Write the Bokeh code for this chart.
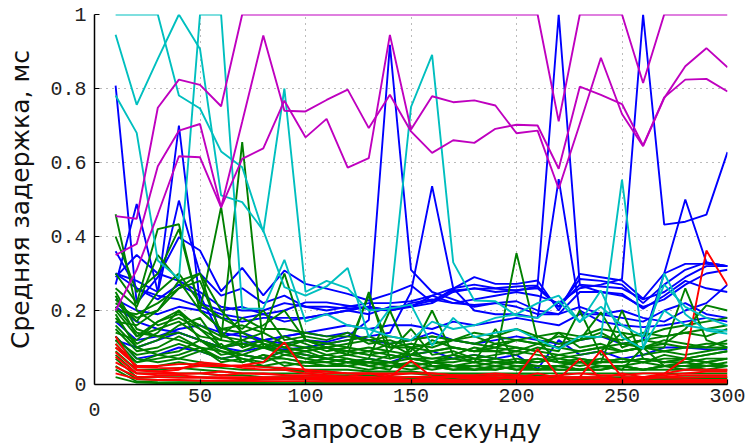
from bokeh.plotting import figure
from bokeh.models import Range1d, FixedTicker, LinearAxis
from bokeh.embed import file_html
from bokeh.resources import INLINE

x = [10, 20, 30, 40, 50, 60, 70, 80, 90, 100,
     110, 120, 130, 140, 150, 160, 170, 180, 190, 200,
     210, 220, 230, 240, 250, 260, 270, 280, 290, 300]

x_ticks = [0, 50, 100, 150, 200, 250, 300]
y_ticks = [0, 0.2, 0.4, 0.6, 0.8, 1]
y_tick_labels = {0: "0", 0.2: "0.2", 0.4: "0.4", 0.6: "0.6", 0.8: "0.8", 1: "1"}

magenta_a = [0.455, 0.448, 0.748, 0.824, 0.810, 0.752, 1.0, 1.0, 1.0, 1.0,
             1.0, 1.0, 1.0, 1.0, 1.0, 1.0, 1.0, 1.0, 1.0, 1.0,
             1.0, 0.711, 1.0, 1.0, 1.0, 0.815, 1.0, 1.0, 1.0, 1.0]
magenta_b = [0.350, 0.380, 0.590, 0.686, 0.704, 0.479, 0.710, 0.943, 0.740, 0.738,
             0.769, 0.797, 0.693, 0.783, 0.684, 0.626, 0.660, 0.653, 0.691, 0.702,
             0.700, 0.583, 0.805, 0.783, 0.758, 0.646, 0.776, 0.824, 0.826, 0.792]
magenta_c = [0.200, 0.310, 0.460, 0.617, 0.614, 0.479, 0.610, 0.638, 0.767, 0.668,
             0.718, 0.586, 0.612, 0.945, 0.689, 0.779, 0.763, 0.768, 0.754, 0.679,
             0.686, 0.529, 0.704, 0.883, 0.731, 0.644, 0.774, 0.860, 0.909, 0.857]

cyan_a = [1.0, 1.0, 1.0, 0.781, 0.746, 0.630, 0.587, 0.412, 0.800, 0.250,
          0.280, 0.260, 0.200, 0.205, 0.750, 0.891, 0.330, 0.227, 0.225, 0.186,
          0.180, 0.225, 0.168, 0.254, 0.128, 0.096, 0.300, 0.190, 0.146, 0.137]
cyan_b = [0.945, 0.756, 0.880, 1.0, 0.907, 0.511, 0.493, 0.416, 0.263, 0.240,
          0.265, 0.315, 0.128, 0.205, 0.216, 0.105, 0.180, 0.128, 0.140, 0.150,
          0.121, 0.096, 0.130, 0.128, 0.554, 0.100, 0.200, 0.160, 0.150, 0.145]
cyan_c = [0.781, 0.680, 0.335, 0.286, 1.0, 1.0, 0.205, 0.205, 0.337, 0.170,
          0.190, 0.160, 0.150, 0.130, 0.120, 0.170, 0.150, 0.160, 0.180, 0.190,
          0.220, 0.240, 0.170, 0.210, 0.160, 0.130, 0.270, 0.210, 0.180, 0.160]

blue_1 = [0.808, 0.220, 0.290, 0.398, 0.362, 0.252, 0.315, 0.241, 0.308, 0.272,
          0.259, 0.245, 0.227, 0.245, 0.268, 0.222, 0.259, 0.290, 0.272, 0.272,
          0.281, 0.200, 0.299, 0.290, 0.281, 0.232, 0.300, 0.326, 0.326, 0.320]
blue_2 = [0.300, 0.280, 0.250, 0.700, 0.220, 0.200, 0.210, 0.190, 0.200, 0.222,
          0.222, 0.213, 0.204, 0.200, 0.213, 0.227, 0.254, 0.259, 0.259, 0.254,
          0.265, 0.210, 0.285, 0.280, 0.270, 0.220, 0.270, 0.310, 0.330, 0.320]
blue_3 = [0.270, 0.488, 0.250, 0.497, 0.300, 0.240, 0.260, 0.220, 0.240, 0.210,
          0.210, 0.205, 0.210, 0.200, 0.220, 0.230, 0.220, 0.215, 0.220, 0.225,
          0.200, 0.190, 0.250, 0.250, 0.245, 0.205, 0.240, 0.280, 0.260, 0.250]
blue_4 = [0.360, 0.260, 0.230, 0.270, 0.240, 0.130, 0.140, 0.120, 0.110, 0.120,
          0.115, 0.130, 0.174, 0.918, 0.310, 0.250, 0.230, 0.210, 0.220, 0.210,
          0.190, 0.190, 0.210, 0.190, 0.200, 0.180, 0.170, 0.200, 0.220, 0.270]
blue_5 = [0.120, 0.100, 0.120, 0.140, 0.120, 0.100, 0.090, 0.100, 0.095, 0.100,
          0.110, 0.120, 0.130, 0.140, 0.250, 0.536, 0.260, 0.200, 0.190, 0.190,
          0.180, 0.555, 0.200, 0.170, 0.160, 0.155, 0.160, 0.170, 0.180, 0.170]
blue_6 = [0.300, 0.260, 0.240, 0.230, 0.210, 0.190, 0.180, 0.190, 0.170, 0.180,
          0.190, 0.200, 0.190, 0.210, 0.210, 0.240, 0.220, 0.230, 0.240, 0.250,
          0.240, 0.220, 0.260, 0.270, 0.285, 1.0, 0.432, 0.440, 0.459, 0.628]
blue_7 = [0.290, 0.350, 0.300, 0.280, 0.250, 0.210, 0.200, 0.200, 0.220, 0.210,
          0.200, 0.210, 0.220, 0.220, 0.225, 0.240, 0.260, 0.270, 0.260, 0.265,
          0.268, 1.0, 0.268, 0.250, 0.240, 0.210, 0.230, 0.270, 0.300, 0.310]
blue_8 = [0.170, 0.120, 0.130, 0.150, 0.160, 0.140, 0.130, 0.120, 0.130, 0.140,
          0.130, 0.140, 0.120, 0.110, 0.120, 0.140, 0.120, 0.110, 0.120, 0.130,
          0.120, 0.110, 0.120, 0.130, 0.110, 0.120, 0.300, 0.500, 0.330, 0.320]
blue_9 = [0.130, 0.070, 0.080, 0.100, 0.090, 0.070, 0.080, 0.070, 0.090, 0.080,
          0.070, 0.060, 0.070, 0.060, 0.080, 0.090, 0.070, 0.080, 0.070, 0.080,
          0.042, 0.120, 0.080, 0.090, 0.070, 0.080, 0.100, 0.100, 0.095, 0.095]
blue_10 = [0.230, 0.200, 0.190, 0.210, 0.200, 0.180, 0.170, 0.180, 0.180, 0.180,
           0.190, 0.200, 0.210, 0.200, 0.210, 0.220, 0.250, 0.260, 0.250, 0.255,
           0.260, 0.210, 0.270, 0.265, 0.260, 0.230, 0.250, 0.290, 0.320, 0.320]
blue_11 = [0.210, 0.170, 0.150, 0.140, 0.120, 0.100, 0.110, 0.120, 0.130, 0.140,
           0.150, 0.160, 0.150, 0.160, 0.160, 0.150, 0.170, 0.160, 0.170, 0.180,
           0.170, 0.160, 0.190, 0.190, 0.180, 0.170, 0.200, 0.220, 0.190, 0.180]

green_1 = [0.46, 0.20, 0.16, 0.18, 0.15, 0.12, 0.655, 0.10, 0.09, 0.08,
           0.07, 0.06, 0.06, 0.05, 0.06, 0.05, 0.05, 0.04, 0.05, 0.04,
           0.05, 0.04, 0.04, 0.05, 0.04, 0.04, 0.05, 0.05, 0.04, 0.05]
green_2 = [0.40, 0.25, 0.30, 0.42, 0.20, 0.48, 0.10, 0.12, 0.10, 0.09,
           0.10, 0.08, 0.09, 0.08, 0.07, 0.07, 0.08, 0.06, 0.07, 0.06,
           0.06, 0.07, 0.06, 0.06, 0.07, 0.06, 0.07, 0.07, 0.06, 0.07]
green_3 = [0.30, 0.22, 0.42, 0.433, 0.20, 0.15, 0.16, 0.14, 0.30, 0.12,
           0.11, 0.10, 0.24, 0.10, 0.10, 0.09, 0.10, 0.09, 0.09, 0.10,
           0.09, 0.08, 0.09, 0.10, 0.09, 0.10, 0.09, 0.10, 0.10, 0.10]
green_4 = [0.25, 0.15, 0.13, 0.14, 0.12, 0.10, 0.11, 0.10, 0.09, 0.10,
           0.08, 0.09, 0.08, 0.07, 0.08, 0.07, 0.07, 0.08, 0.07, 0.355,
           0.12, 0.06, 0.07, 0.06, 0.06, 0.07, 0.06, 0.07, 0.06, 0.07]
green_5 = [0.22, 0.18, 0.20, 0.28, 0.20, 0.15, 0.14, 0.16, 0.20, 0.12,
           0.10, 0.08, 0.25, 0.07, 0.09, 0.20, 0.08, 0.10, 0.09, 0.08,
           0.10, 0.09, 0.20, 0.08, 0.09, 0.10, 0.10, 0.26, 0.12, 0.10]
green_6 = [0.20, 0.13, 0.15, 0.17, 0.13, 0.12, 0.11, 0.10, 0.11, 0.10,
           0.10, 0.11, 0.12, 0.10, 0.11, 0.10, 0.12, 0.11, 0.10, 0.12,
           0.11, 0.10, 0.12, 0.195, 0.10, 0.12, 0.11, 0.15, 0.214, 0.20]
green_7 = [0.19, 0.10, 0.12, 0.16, 0.18, 0.10, 0.08, 0.07, 0.09, 0.08,
           0.07, 0.06, 0.07, 0.06, 0.05, 0.06, 0.05, 0.06, 0.05, 0.06,
           0.05, 0.05, 0.06, 0.05, 0.05, 0.06, 0.05, 0.05, 0.06, 0.05]
green_8 = [0.17, 0.16, 0.20, 0.26, 0.28, 0.14, 0.10, 0.12, 0.10, 0.09,
           0.10, 0.09, 0.08, 0.09, 0.15, 0.08, 0.09, 0.07, 0.08, 0.09,
           0.08, 0.07, 0.08, 0.09, 0.14, 0.08, 0.09, 0.08, 0.09, 0.10]
green_9 = [0.15, 0.09, 0.10, 0.13, 0.10, 0.07, 0.06, 0.08, 0.07, 0.06,
           0.06, 0.05, 0.06, 0.05, 0.05, 0.04, 0.05, 0.04, 0.04, 0.05,
           0.04, 0.04, 0.04, 0.04, 0.05, 0.04, 0.04, 0.04, 0.04, 0.04]
green_10 = [0.14, 0.12, 0.17, 0.20, 0.15, 0.10, 0.12, 0.10, 0.13, 0.11,
            0.09, 0.10, 0.09, 0.11, 0.08, 0.12, 0.10, 0.09, 0.11, 0.10,
            0.09, 0.14, 0.10, 0.11, 0.09, 0.10, 0.12, 0.11, 0.10, 0.12]
green_11 = [0.13, 0.07, 0.06, 0.07, 0.06, 0.05, 0.05, 0.05, 0.04, 0.04,
            0.04, 0.04, 0.035, 0.035, 0.035, 0.03, 0.03, 0.03, 0.03, 0.03,
            0.03, 0.03, 0.03, 0.03, 0.03, 0.03, 0.03, 0.03, 0.03, 0.03]
green_12 = [0.12, 0.08, 0.09, 0.11, 0.09, 0.07, 0.08, 0.07, 0.07, 0.06,
            0.07, 0.06, 0.06, 0.06, 0.07, 0.06, 0.06, 0.07, 0.06, 0.06,
            0.07, 0.06, 0.06, 0.07, 0.06, 0.07, 0.06, 0.06, 0.07, 0.07]
green_13 = [0.11, 0.05, 0.05, 0.06, 0.05, 0.045, 0.04, 0.04, 0.04, 0.035,
            0.035, 0.03, 0.03, 0.03, 0.03, 0.025, 0.025, 0.025, 0.025, 0.025,
            0.025, 0.02, 0.02, 0.02, 0.02, 0.02, 0.02, 0.02, 0.02, 0.02]
green_14 = [0.10, 0.06, 0.07, 0.08, 0.10, 0.06, 0.07, 0.05, 0.06, 0.05,
            0.05, 0.05, 0.04, 0.05, 0.04, 0.05, 0.04, 0.04, 0.05, 0.04,
            0.04, 0.05, 0.04, 0.04, 0.05, 0.04, 0.05, 0.04, 0.05, 0.05]
green_15 = [0.09, 0.04, 0.04, 0.045, 0.04, 0.035, 0.03, 0.03, 0.03, 0.03,
            0.025, 0.025, 0.025, 0.02, 0.02, 0.02, 0.02, 0.02, 0.02, 0.018,
            0.018, 0.018, 0.018, 0.018, 0.018, 0.016, 0.016, 0.016, 0.016, 0.016]
green_16 = [0.08, 0.03, 0.03, 0.03, 0.03, 0.025, 0.025, 0.02, 0.02, 0.02,
            0.02, 0.018, 0.018, 0.015, 0.015, 0.015, 0.015, 0.014, 0.014, 0.013,
            0.013, 0.013, 0.012, 0.012, 0.012, 0.012, 0.012, 0.012, 0.012, 0.012]
green_17 = [0.07, 0.02, 0.02, 0.02, 0.02, 0.018, 0.016, 0.015, 0.015, 0.014,
            0.013, 0.012, 0.012, 0.011, 0.011, 0.01, 0.01, 0.01, 0.01, 0.01,
            0.01, 0.01, 0.01, 0.01, 0.01, 0.01, 0.01, 0.01, 0.01, 0.01]
green_18 = [0.05, 0.015, 0.012, 0.01, 0.01, 0.009, 0.008, 0.008, 0.007, 0.007,
            0.006, 0.006, 0.006, 0.005, 0.005, 0.005, 0.005, 0.004, 0.004, 0.004,
            0.004, 0.004, 0.004, 0.004, 0.004, 0.004, 0.004, 0.004, 0.004, 0.004]
green_19 = [0.04, 0.008, 0.006, 0.005, 0.005, 0.004, 0.004, 0.004, 0.003, 0.003,
            0.003, 0.003, 0.003, 0.003, 0.003, 0.002, 0.002, 0.002, 0.002, 0.002,
            0.002, 0.002, 0.002, 0.002, 0.002, 0.002, 0.002, 0.002, 0.002, 0.002]
green_20 = [0.21, 0.14, 0.13, 0.12, 0.10, 0.09, 0.08, 0.10, 0.08, 0.09,
            0.07, 0.08, 0.07, 0.20, 0.07, 0.06, 0.08, 0.07, 0.06, 0.07,
            0.06, 0.08, 0.07, 0.06, 0.07, 0.06, 0.08, 0.07, 0.08, 0.09]
green_21 = [0.18, 0.11, 0.14, 0.20, 0.12, 0.08, 0.09, 0.11, 0.09, 0.07,
            0.08, 0.07, 0.06, 0.08, 0.07, 0.06, 0.07, 0.06, 0.15, 0.06,
            0.07, 0.06, 0.05, 0.06, 0.20, 0.07, 0.06, 0.07, 0.08, 0.09]
green_22 = [0.23, 0.17, 0.25, 0.30, 0.22, 0.18, 0.15, 0.20, 0.12, 0.13,
            0.12, 0.14, 0.11, 0.12, 0.10, 0.11, 0.12, 0.13, 0.11, 0.12,
            0.13, 0.11, 0.12, 0.14, 0.11, 0.12, 0.13, 0.14, 0.13, 0.15]
green_23 = [0.16, 0.10, 0.08, 0.09, 0.12, 0.09, 0.07, 0.06, 0.08, 0.07,
            0.06, 0.07, 0.05, 0.06, 0.05, 0.06, 0.05, 0.05, 0.06, 0.05,
            0.05, 0.05, 0.04, 0.05, 0.05, 0.04, 0.05, 0.05, 0.05, 0.06]
green_24 = [0.20, 0.19, 0.22, 0.26, 0.30, 0.20, 0.14, 0.11, 0.10, 0.12,
            0.10, 0.09, 0.10, 0.09, 0.08, 0.09, 0.10, 0.09, 0.10, 0.09,
            0.11, 0.10, 0.09, 0.10, 0.11, 0.10, 0.11, 0.10, 0.11, 0.11]
green_25 = [0.12, 0.06, 0.08, 0.07, 0.09, 0.11, 0.06, 0.08, 0.05, 0.06,
            0.05, 0.06, 0.05, 0.04, 0.10, 0.05, 0.04, 0.05, 0.04, 0.05,
            0.04, 0.05, 0.04, 0.05, 0.04, 0.10, 0.05, 0.06, 0.05, 0.05]
green_26 = [0.24, 0.13, 0.17, 0.19, 0.16, 0.13, 0.12, 0.14, 0.11, 0.12,
            0.11, 0.12, 0.13, 0.11, 0.12, 0.13, 0.12, 0.11, 0.13, 0.12,
            0.11, 0.13, 0.12, 0.13, 0.12, 0.14, 0.13, 0.14, 0.15, 0.16]
green_27 = [0.26, 0.21, 0.35, 0.28, 0.30, 0.13, 0.18, 0.15, 0.15, 0.14,
            0.13, 0.13, 0.12, 0.13, 0.12, 0.13, 0.12, 0.14, 0.13, 0.15,
            0.13, 0.14, 0.13, 0.15, 0.14, 0.13, 0.15, 0.16, 0.17, 0.18]
green_28 = [0.02, 0.005, 0.004, 0.004, 0.003, 0.003, 0.003, 0.003, 0.002, 0.002,
            0.002, 0.002, 0.002, 0.002, 0.002, 0.002, 0.001, 0.001, 0.001, 0.001,
            0.001, 0.001, 0.001, 0.001, 0.001, 0.001, 0.001, 0.001, 0.001, 0.001]

red_1 = [0.13, 0.04, 0.035, 0.03, 0.03, 0.025, 0.03, 0.03, 0.025, 0.02,
         0.02, 0.02, 0.02, 0.015, 0.02, 0.015, 0.02, 0.015, 0.015, 0.02,
         0.02, 0.015, 0.02, 0.02, 0.015, 0.02, 0.029, 0.07, 0.362, 0.268]
red_2 = [0.11, 0.047, 0.045, 0.044, 0.05, 0.05, 0.05, 0.047, 0.045, 0.04,
         0.035, 0.03, 0.03, 0.025, 0.03, 0.03, 0.025, 0.02, 0.025, 0.02,
         0.096, 0.02, 0.02, 0.092, 0.02, 0.02, 0.025, 0.03, 0.035, 0.035]
red_3 = [0.10, 0.05, 0.05, 0.055, 0.055, 0.05, 0.052, 0.06, 0.114, 0.035,
         0.03, 0.03, 0.03, 0.03, 0.03, 0.03, 0.025, 0.025, 0.03, 0.025,
         0.02, 0.025, 0.03, 0.025, 0.025, 0.03, 0.03, 0.04, 0.04, 0.04]
red_4 = [0.087, 0.038, 0.035, 0.04, 0.06, 0.055, 0.045, 0.04, 0.04, 0.03,
         0.025, 0.02, 0.02, 0.02, 0.065, 0.02, 0.02, 0.015, 0.02, 0.015,
         0.015, 0.015, 0.07, 0.015, 0.015, 0.015, 0.02, 0.025, 0.025, 0.025]
red_5 = [0.06, 0.03, 0.025, 0.025, 0.02, 0.02, 0.02, 0.02, 0.02, 0.018,
         0.015, 0.015, 0.015, 0.012, 0.012, 0.012, 0.012, 0.01, 0.01, 0.01,
         0.01, 0.012, 0.01, 0.01, 0.01, 0.01, 0.01, 0.012, 0.012, 0.012]
red_6 = [0.047, 0.021, 0.02, 0.018, 0.018, 0.016, 0.015, 0.015, 0.015, 0.014,
         0.012, 0.012, 0.01, 0.01, 0.01, 0.009, 0.009, 0.008, 0.008, 0.008,
         0.008, 0.008, 0.007, 0.007, 0.007, 0.007, 0.007, 0.007, 0.007, 0.007]
red_7 = [0.03, 0.015, 0.012, 0.012, 0.01, 0.01, 0.01, 0.009, 0.009, 0.009,
         0.008, 0.008, 0.008, 0.007, 0.007, 0.007, 0.006, 0.006, 0.006, 0.006,
         0.005, 0.005, 0.005, 0.005, 0.005, 0.005, 0.005, 0.005, 0.005, 0.005]
red_8 = [0.075, 0.03, 0.03, 0.028, 0.03, 0.035, 0.03, 0.028, 0.026, 0.025,
         0.022, 0.022, 0.03, 0.02, 0.02, 0.022, 0.02, 0.02, 0.018, 0.018,
         0.03, 0.018, 0.016, 0.016, 0.03, 0.02, 0.018, 0.018, 0.02, 0.02]

blue_series = [blue_1, blue_2, blue_3, blue_4, blue_5, blue_6, blue_7, blue_8,
               blue_9, blue_10, blue_11]
green_series = [green_1, green_2, green_3, green_4, green_5, green_6, green_7,
                green_8, green_9, green_10, green_11, green_12, green_13,
                green_14, green_15, green_16, green_17, green_18, green_19,
                green_20, green_21, green_22, green_23, green_24, green_25,
                green_26, green_27, green_28]
red_series = [red_1, red_2, red_3, red_4, red_5, red_6, red_7, red_8]
cyan_series = [cyan_a, cyan_b, cyan_c]
magenta_series = [magenta_a, magenta_b, magenta_c]

groups = [
    (blue_series, "#0000ff"),
    (green_series, "#008000"),
    (red_series, "#ff0000"),
    (cyan_series, "#00bfbf"),
    (magenta_series, "#bf00bf"),
]

for series, _c in groups:
    for i, s in enumerate(series):
        if len(s) != len(x):
            raise ValueError(f"series {_c} #{i} has {len(s)} values")

p = figure(width=752, height=446, x_range=Range1d(0, 300), y_range=Range1d(0, 1),
           output_backend="svg", toolbar_location=None,
           min_border_left=94, min_border_right=25, min_border_top=14,
           min_border_bottom=62)
p.outline_line_color = None
p.background_fill_color = "white"
p.border_fill_color = "white"

for series, color in groups:
    p.multi_line(xs=[x] * len(series), ys=series, line_color=color,
                 line_width=1.9)

TICK_FONT = "Liberation Mono"
LABEL_FONT = "DejaVu Sans"

p.xaxis.ticker = FixedTicker(ticks=x_ticks[1:])
p.yaxis.ticker = FixedTicker(ticks=y_ticks)
p.yaxis.major_label_overrides = y_tick_labels

for ax in (p.xaxis[0], p.yaxis[0]):
    ax.major_label_text_font = TICK_FONT
    ax.major_label_text_font_size = "20px"
    ax.major_label_text_color = "#222222"
    ax.axis_label_text_font = LABEL_FONT
    ax.axis_label_text_font_size = "25px"
    ax.axis_label_text_font_style = "normal"
    ax.axis_label_text_color = "#111111"
    ax.major_tick_in = 5
    ax.major_tick_out = 0
    ax.minor_tick_in = 0
    ax.minor_tick_out = 0
    ax.axis_line_color = "black"
    ax.axis_line_width = 1.5
    ax.major_tick_line_width = 1.2

p.yaxis.axis_label = "Средняя задержка, мс"
p.xaxis.major_label_standoff = 4
p.yaxis.major_label_standoff = 8
p.yaxis.axis_label_standoff = 12

# second bottom axis: the lowered "0" tick label and the axis title
zero_axis = LinearAxis(ticker=FixedTicker(ticks=[x_ticks[0]]),
                       axis_label="Запросов в секунду")
zero_axis.major_label_text_font = TICK_FONT
zero_axis.major_label_text_font_size = "20px"
zero_axis.major_label_text_color = "#222222"
zero_axis.major_label_standoff = -8
zero_axis.axis_label_text_font = LABEL_FONT
zero_axis.axis_label_text_font_size = "25px"
zero_axis.axis_label_text_font_style = "normal"
zero_axis.axis_label_text_color = "#111111"
zero_axis.axis_label_standoff = -4
zero_axis.axis_line_color = None
zero_axis.major_tick_line_color = None
zero_axis.minor_tick_line_color = None
p.add_layout(zero_axis, "below")

p.grid.grid_line_color = "#777777"
p.grid.grid_line_dash = "1 5"
p.grid.grid_line_width = 1
p.xgrid.ticker = FixedTicker(ticks=x_ticks)
p.ygrid.ticker = FixedTicker(ticks=y_ticks)

open("out.html", "w").write(file_html(p, INLINE))
